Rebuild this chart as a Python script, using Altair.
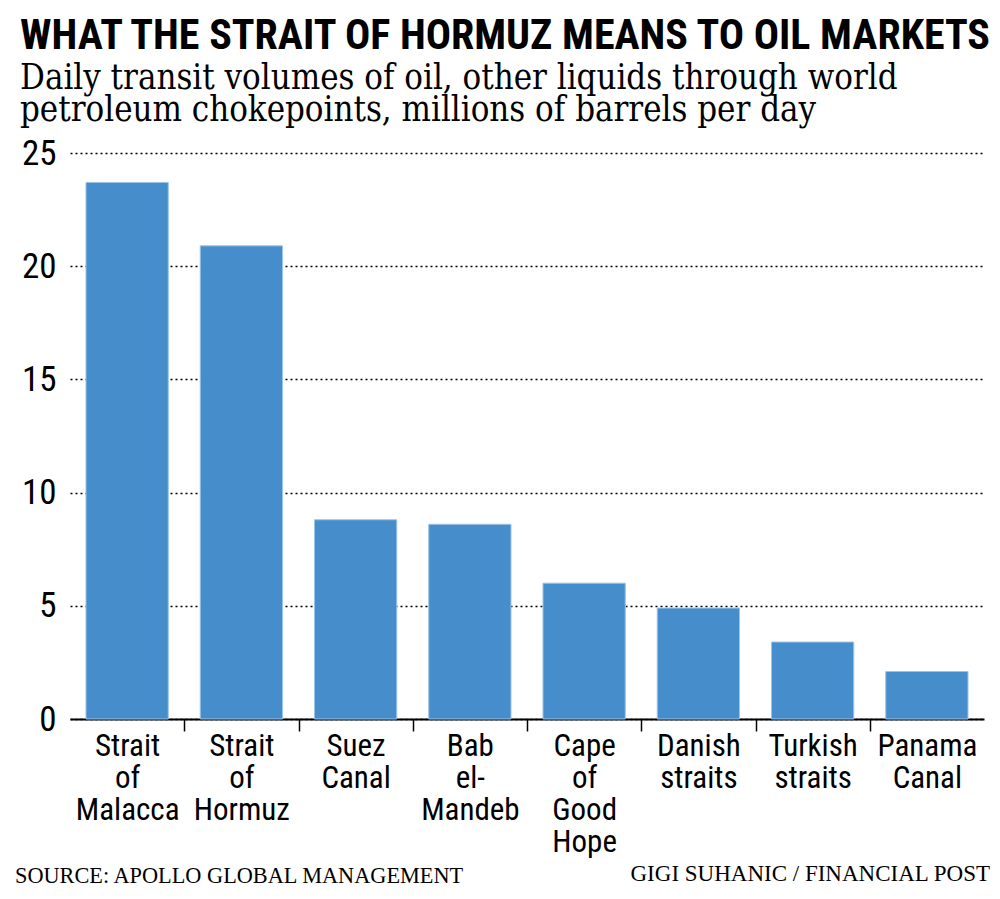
import altair as alt
import pandas as pd

categories = ["Strait of Malacca", "Strait of Hormuz", "Suez Canal", "Bab el-Mandeb",
              "Cape of Good Hope", "Danish straits", "Turkish straits", "Panama Canal"]
volumes = [23.7, 20.9, 8.8, 8.6, 6.0, 4.9, 3.4, 2.1]
y_ticks = [0, 5, 10, 15, 20, 25]

title_text = "WHAT THE STRAIT OF HORMUZ MEANS TO OIL MARKETS"
subtitle_lines = ["Daily transit volumes of oil, other liquids through world",
                  "petroleum chokepoints, millions of barrels per day"]
source_text = "SOURCE: APOLLO GLOBAL MANAGEMENT"
credit_text = "GIGI SUHANIC / FINANCIAL POST"

df = pd.DataFrame({"cat": categories, "val": volumes})

SANS_NARROW = "Liberation Sans Narrow, Roboto Condensed, DejaVu Sans Condensed, Roboto, sans-serif"
SERIF = "DejaVu Serif Condensed, DejaVu Serif, Liberation Serif, serif"
FOOT_SERIF = "Liberation Serif, serif"

W, H = 914, 566
PAD_INNER = 0.28
STEP = W / len(categories)
HALF_GAP = PAD_INNER / 2 * STEP  # ticks sit in the middle of the gaps between bars

x_scale = alt.Scale(paddingInner=PAD_INNER, paddingOuter=PAD_INNER / 2)
y_scale = alt.Scale(domain=[0, 25], nice=False)

first_cat = categories[0].replace("'", "\\'")

bars = alt.Chart(df).mark_bar(color="#458dcb", stroke="#9cc4e8", strokeWidth=1).encode(
    x=alt.X("cat:N", sort=categories, title=None, scale=x_scale,
            axis=alt.Axis(labelAngle=0, labelFont=SANS_NARROW, labelFontSize=31,
                          labelLineHeight=32, labelColor="black", labelPadding=0,
                          labelExpr="split(replace(datum.value, '-', '- '), ' ')",
                          bandPosition=0, tickOffset=-HALF_GAP, labelOffset=HALF_GAP,
                          ticks=True, tickColor="black", tickWidth=1.5, tickSize=12,
                          tickOpacity={"condition": {"test": f"datum.value == '{first_cat}'",
                                                     "value": 0}, "value": 1},
                          domainColor="black", domainWidth=2, grid=False)),
    y=alt.Y("val:Q", title=None, scale=y_scale,
            axis=alt.Axis(values=y_ticks, labelFont=SANS_NARROW, labelFontSize=35,
                          labelColor="black", labelPadding=14, ticks=False, domain=False,
                          grid=True, gridColor="black", gridDash=[2, 3], gridWidth=1.6)),
)

source = alt.Chart(pd.DataFrame({"t": [source_text]})).mark_text(
    align="left", baseline="alphabetic", font=FOOT_SERIF, fontSize=22.3, color="black"
).encode(text="t:N", x=alt.value(-55), y=alt.value(730))

credit = alt.Chart(pd.DataFrame({"t": [credit_text]})).mark_text(
    align="right", baseline="alphabetic", font=FOOT_SERIF, fontSize=23, color="black"
).encode(text="t:N", x=alt.value(920), y=alt.value(728))

chart = alt.layer(bars, source, credit).properties(
    width=W, height=H,
    autosize=alt.AutoSizeParams(type="none"),
    padding={"left": 62, "top": 145, "right": 8, "bottom": 172},
    title=alt.TitleParams(
        text=title_text, subtitle=subtitle_lines, anchor="start", frame="bounds",
        font=SANS_NARROW, fontSize=42, fontWeight="bold", color="black",
        subtitleFont=SERIF, subtitleFontSize=34.5, subtitleLineHeight=32,
        subtitleColor="black", subtitlePadding=4, offset=8, dx=5),
).configure_view(stroke=None)

chart.save("out.html", embed_options={"renderer": "svg", "actions": False})
